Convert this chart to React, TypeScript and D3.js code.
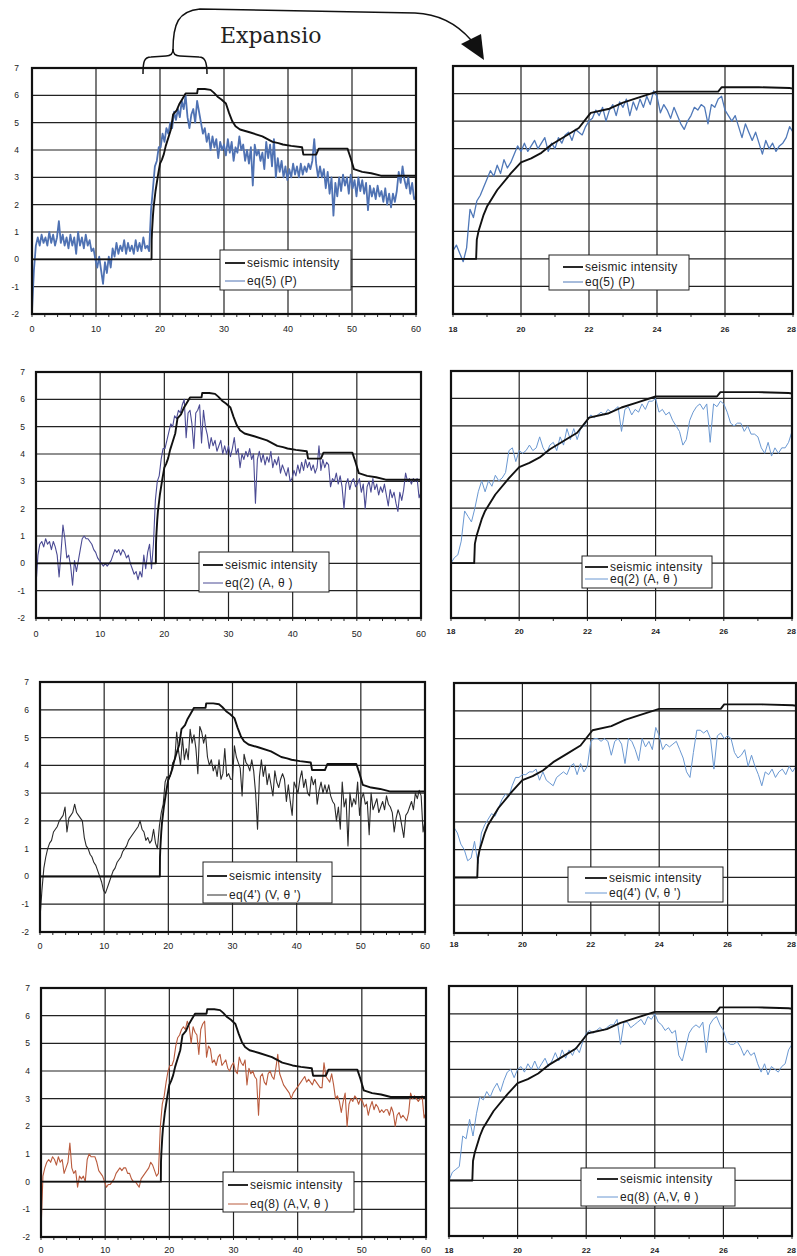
import React from "react";
import * as d3 from "d3";

// ---------- DATA ----------
// seismic intensity (shared by all panels)
const SI_T = [0, 18.68, 18.7, 18.75, 18.9, 19.0, 19.3, 19.7, 20.0, 20.3, 20.6, 20.9, 21.3, 21.7, 22.05, 22.6, 23.0, 23.45, 24.0, 25.8, 25.9, 27.0, 27.9, 28.4, 29.0, 29.6, 30.3, 30.8, 31.3, 31.8, 32.5, 34.0, 36.0, 37.6, 38.5, 39.2, 40.5, 42.2, 42.4, 44.4, 44.8, 49.3, 49.8, 50.3, 51.6, 53.0, 54.5, 60];
const SI_V = [0, 0, 0.7, 1.0, 1.6, 1.9, 2.5, 3.1, 3.5, 3.65, 3.85, 4.15, 4.45, 4.75, 5.3, 5.45, 5.67, 5.85, 6.07, 6.07, 6.23, 6.23, 6.2, 6.1, 5.95, 5.85, 5.7, 5.35, 5.05, 4.87, 4.75, 4.65, 4.5, 4.3, 4.25, 4.2, 4.15, 4.1, 3.83, 3.83, 4.05, 4.05, 3.7, 3.3, 3.2, 3.15, 3.06, 3.06];

// full records 0..60 s, sampled every 0.3 s
const LEFT_START = 0;
const LEFT_STEP = 0.3;
const EQ5_FULL = [
  -1.9, -0.4, 0.5, 0.8, 0.5, 0.9, 0.6, 0.8, 0.5, 1.0,
  0.6, 0.9, 0.5, 0.8, 1.4, 0.6, 0.9, 0.5, 0.8, 0.4,
  0.9, 0.5, 0.8, 0.2, 1.0, 0.5, 0.8, 0.4, 0.9, 0.5,
  0.7, 0.3, 0.4, 0.0, -0.3, 0.1, -0.4, -0.9, -0.1, -0.5,
  0.1, -0.3, 0.4, 0.1, 0.6, 0.2, 0.5, 0.3, 0.7, 0.2,
  0.6, 0.3, 0.5, 0.2, 0.7, 0.3, 0.6, 0.3, 0.8, 0.4,
  0.5, 0.3, 1.8, 2.6, 3.4, 3.6, 4.1, 4.1, 4.6, 4.3,
  4.8, 4.6, 5.0, 4.8, 5.4, 5.1, 5.5, 5.2, 5.8, 5.5,
  6.0, 5.2, 4.8, 5.3, 5.5, 5.0, 5.8, 5.4, 5.0, 4.6,
  4.8, 4.3, 4.6, 4.0, 4.5, 4.1, 4.4, 3.7, 4.3, 4.0,
  4.2, 3.8, 4.4, 3.9, 4.3, 3.6, 4.1, 3.9, 4.5, 4.0,
  4.2, 3.6, 4.0, 3.5, 4.1, 2.7, 4.2, 3.8, 4.0, 3.6,
  3.9, 3.3, 4.3, 3.7, 4.2, 3.4, 4.4, 3.0, 3.7, 3.2,
  3.6, 3.0, 3.4, 2.9, 3.3, 3.0, 3.5, 3.1, 3.4, 3.0,
  3.5, 3.1, 3.4, 3.2, 3.5, 3.3, 3.6, 4.4, 3.5, 3.0,
  3.4, 3.0, 3.3, 2.6, 3.2, 2.4, 3.0, 1.6, 2.8, 2.3,
  3.0, 2.5, 3.1, 2.7, 3.0, 2.4, 3.1, 2.6, 2.9, 2.3,
  3.0, 2.5, 2.9, 2.4, 2.8, 1.8, 2.7, 2.3, 2.6, 2.2,
  2.7, 2.3, 2.5, 2.1, 2.6, 2.0, 2.4, 1.9, 2.4, 2.1,
  2.5, 3.2, 2.8, 3.4, 2.9, 2.6, 3.0, 2.4, 2.8, 2.2,
  2.3,
];
const EQ2_FULL = [
  -0.8, 0.3, 0.7, 0.8, 0.6, 0.9, 0.7, 0.8, 0.5, 0.8,
  0.6, 0.3, -0.5, 0.4, 1.4, 0.9, 0.2, 0.3, -0.1, -0.8,
  0.1, -0.3, 0.1, 0.5, 0.9, 1.0, 0.9, 0.9, 0.8, 0.7,
  0.5, 0.4, 0.2, 0.1, 0.0, -0.1, 0.0, -0.1, 0.0, 0.1,
  0.3, 0.5, 0.4, 0.5, 0.3, 0.5, 0.4, 0.2, 0.3, 0.0,
  -0.2, -0.4, -0.3, -0.6, -0.3, -0.5, 0.3, -0.2, 0.4, 0.7,
  -0.2, 0.7, 2.3, 3.0, 3.2, 3.8, 4.2, 4.2, 4.5, 4.8,
  5.1, 5.0, 5.4, 5.3, 5.6, 5.5, 5.8, 6.0, 4.6, 5.5,
  5.6, 5.1, 4.2, 5.5, 5.6, 5.8, 4.4, 5.6, 5.0, 4.7,
  4.2, 4.6, 4.3, 4.5, 4.1, 4.3, 4.5, 4.0, 4.3, 4.0,
  4.3, 3.9, 4.2, 4.6, 4.0, 4.2, 3.5, 4.0, 3.8, 4.1,
  3.9, 4.2, 3.8, 4.0, 2.2, 3.8, 4.1, 3.7, 4.0, 3.6,
  3.9, 3.7, 4.1, 3.5, 3.8, 3.6, 3.9, 3.3, 3.6, 3.4,
  3.2, 3.5, 3.0, 3.1, 3.4, 3.2, 3.6, 3.3, 3.7, 3.4,
  3.8, 3.5, 3.7, 3.4, 3.6, 3.3, 3.5, 4.3, 3.4, 3.8,
  3.5, 3.7, 3.6, 2.8, 3.1, 3.0, 3.3, 2.9, 3.2, 2.8,
  2.0, 2.9, 3.1, 2.7, 3.0, 3.1, 2.8, 2.9, 3.1, 2.6,
  2.9, 2.0, 2.8, 3.0, 2.6, 3.1, 2.7, 2.9, 2.5, 2.8,
  2.6, 2.9, 2.5, 2.1, 2.7, 2.4, 2.6, 2.2, 1.9, 2.6,
  2.3, 2.7, 3.3, 3.0, 3.1, 2.9, 3.1, 3.0, 3.1, 2.4,
  2.6,
];
const EQ4_FULL = [
  -1.5, -0.5, 0.3, 0.7, 1.0, 1.2, 1.3, 1.6, 1.7, 1.8,
  2.0, 2.1, 2.2, 2.5, 1.6, 2.1, 2.2, 2.3, 2.6, 2.3,
  2.2, 2.1, 2.0, 1.4, 1.1, 1.0, 0.8, 0.7, 0.5, 0.4,
  0.2, 0.0, -0.2, -0.5, -0.6, -0.4, -0.2, 0.0, 0.2, 0.3,
  0.5, 0.6, 0.7, 0.9, 1.0, 1.1, 1.3, 1.4, 1.5, 1.6,
  1.7, 1.8, 2.0, 1.7, 1.6, 1.3, 1.4, 1.2, 1.3, 1.7,
  1.2, 1.0, 1.8, 2.3, 2.6, 3.4, 3.6, 3.5, 3.7, 4.1,
  4.2, 5.2, 4.5, 4.0, 5.0, 4.2, 4.6, 4.2, 5.3, 4.8,
  5.1, 4.6, 3.7, 5.4, 5.2, 4.8, 5.1, 4.3, 4.0, 4.2,
  3.8, 4.0, 3.6, 4.2, 3.5, 3.7, 4.6, 3.6, 3.7, 3.5,
  3.5, 4.7, 4.3, 4.1, 3.9, 2.9, 4.4, 4.1, 4.0, 3.8,
  4.2, 3.8, 3.0, 1.7, 3.6, 4.2, 3.6, 4.0, 3.3, 3.7,
  3.3, 2.9, 3.8, 3.4, 3.2, 3.5, 3.7, 3.5, 2.7, 3.3,
  2.7, 2.2, 3.4, 3.2, 3.0, 3.5, 3.8, 3.2, 3.5, 3.0,
  2.9, 3.6, 3.3, 3.5, 2.6, 3.1, 3.4, 3.0, 3.3, 3.0,
  3.3, 2.9, 2.7, 2.6, 2.0, 2.5, 1.7, 3.4, 2.5, 2.8,
  1.1, 3.0, 2.5, 2.8, 2.6, 3.4, 2.2, 2.8, 3.0, 2.6,
  2.7, 1.5, 3.0, 2.4, 2.6, 2.8, 2.3, 2.5, 2.7, 2.4,
  2.9, 2.6, 2.5, 2.3, 1.6, 2.1, 2.4, 2.2, 1.8, 1.4,
  2.2, 2.3, 2.5, 2.7, 2.4, 3.0, 2.8, 3.1, 2.9, 1.6,
  2.0,
];
const EQ8_FULL = [
  -1.8, 0.2, 0.5, 0.7, 0.8, 0.7, 0.9, 0.8, 0.6, 0.9,
  0.7, 0.8, 0.3, 0.5, 0.7, 1.4, 0.5, 0.3, 0.4, -0.2,
  0.2, 0.1, 0.2, 0.0, 0.8, 1.0, 0.9, 0.9, 0.9, 0.7,
  0.4, 0.3, 0.2, 0.0, -0.2, -0.1, -0.1, 0.0, 0.1, 0.3,
  0.4, 0.5, 0.4, 0.5, 0.5, 0.3, 0.3, 0.1, 0.0, 0.0,
  -0.1, -0.2, 0.1, 0.2, 0.3, 0.4, 0.5, 0.7, 0.6, 0.4,
  0.2, 0.3, 2.0, 2.8, 3.1, 3.6, 4.0, 4.2, 4.2, 4.4,
  4.9, 5.2, 5.3, 5.5, 5.6, 5.5, 5.8, 5.6, 5.0, 5.6,
  5.4, 5.3, 4.6, 5.5, 5.7, 5.8, 4.5, 4.9, 4.8, 4.3,
  4.4, 4.2, 4.5, 4.6, 4.2, 4.3, 4.4, 4.1, 4.0, 4.2,
  4.3, 4.0, 3.9, 4.5, 4.3, 4.2, 4.4, 3.5, 4.1, 3.9,
  4.0, 3.8, 3.7, 2.4, 3.8, 3.9, 3.6, 3.5, 3.9, 4.0,
  3.8, 3.7, 4.1, 4.6, 3.9, 3.7, 3.5, 3.4, 3.3, 3.2,
  3.0, 3.2, 3.3, 3.4, 3.5, 3.6, 3.7, 3.8, 3.6, 3.7,
  3.6, 3.5, 3.7, 3.6, 3.5, 3.4, 3.4, 4.3, 3.8, 3.7,
  3.6, 3.9, 3.5, 3.0, 3.1, 2.9, 2.5, 2.9, 3.2, 2.0,
  2.8, 3.0, 2.9, 3.1, 3.0, 2.8, 3.0, 2.9, 2.7, 2.8,
  2.4, 2.7, 2.9, 2.6, 2.8, 2.7, 2.5, 2.6, 2.5, 2.6,
  2.6, 2.4, 2.7, 2.5, 2.0, 2.4, 2.5, 2.3, 2.4, 2.3,
  2.2, 2.5, 3.2, 3.0, 3.1, 3.0, 2.9, 3.0, 3.1, 2.3,
  2.5,
];

// expanded records 18..28 s, sampled every 0.1 s
const RIGHT_START = 18;
const RIGHT_STEP = 0.1;
const EQ5_ZOOM = [
  0.3, 0.5, 0.2, -0.1, 0.4, 1.8, 1.5, 2.1, 2.3, 2.6,
  2.9, 3.2, 3.0, 3.4, 3.1, 3.6, 3.3, 3.5, 3.8, 4.1,
  3.9, 4.2, 3.9, 4.1, 4.3, 4.0, 4.2, 4.4, 3.9, 4.2,
  4.0, 4.4, 4.2, 4.5, 4.6, 4.3, 4.7, 4.6, 4.5, 4.8,
  5.0, 5.1, 5.4, 5.2, 5.5, 5.0, 5.4, 5.6, 5.2, 5.7,
  5.5, 5.8, 5.2, 5.7, 5.4, 5.8, 5.5, 5.9, 5.6, 6.1,
  5.9, 5.3, 5.6, 5.4, 5.1, 5.5, 5.2, 4.9, 4.7, 5.0,
  5.2, 5.5, 5.4, 5.6, 5.5, 4.9, 5.6, 5.5, 5.8, 5.9,
  5.4, 5.2, 5.0, 5.2, 4.8, 4.4, 4.9, 4.6, 4.3, 4.6,
  4.2, 3.8, 4.3, 4.0, 4.2, 3.9, 4.1, 4.2, 4.4, 4.8,
  4.6,
];
const EQ2_ZOOM = [
  0.0, 0.2, 0.3, 0.8, 1.9, 1.7, 1.5, 2.0, 2.6, 3.0,
  2.6, 3.0, 2.8, 3.2, 3.0, 3.1, 3.3, 4.1, 4.2, 3.7,
  4.1, 4.0, 4.1, 4.3, 4.1, 4.2, 4.6, 4.2, 4.0, 4.3,
  4.4, 4.1, 4.6, 4.3, 4.9, 4.5, 4.9, 4.5, 4.9, 5.0,
  5.2, 5.4, 5.3, 5.4, 5.5, 5.4, 5.6, 5.5, 5.6, 5.7,
  4.8, 5.6, 5.7, 5.4, 5.6, 5.5, 5.8, 5.6, 5.9, 5.9,
  6.0, 5.5, 5.6, 5.4, 5.5, 5.2, 5.0, 4.8, 4.3, 4.5,
  5.2, 5.5, 5.7, 5.8, 5.6, 5.8, 4.4, 5.8, 5.7, 5.9,
  5.8, 5.5, 5.1, 5.0, 5.1, 5.1, 4.8, 5.0, 4.7, 4.7,
  4.6, 4.2, 4.0, 4.4, 3.9, 4.2, 4.0, 4.2, 4.2, 4.4,
  4.8,
];
const EQ4_ZOOM = [
  1.8, 1.6, 1.2, 1.0, 0.6, 0.7, 1.3, 0.5, 1.6, 1.9,
  2.1, 2.3, 2.2, 2.5, 2.8, 3.0, 2.9, 3.3, 3.6, 3.6,
  3.7, 3.7, 3.8, 3.8, 3.9, 3.5, 3.8, 3.5, 3.4, 3.3,
  3.6, 3.7, 3.8, 3.7, 4.0, 4.1, 3.7, 4.1, 3.8, 4.0,
  4.9, 5.0, 5.0, 4.9, 5.0, 4.9, 4.4, 4.9, 5.0, 4.8,
  4.1, 5.0, 4.9, 4.6, 4.2, 5.0, 4.7, 4.9, 4.6, 5.4,
  5.1, 4.6, 4.8, 4.7, 4.8, 4.9, 4.6, 4.3, 3.8, 3.6,
  4.5, 5.3, 5.3, 5.2, 5.3, 5.0, 3.9, 5.1, 5.2, 5.0,
  5.1, 5.0, 4.5, 4.3, 4.4, 4.6, 4.0, 4.4, 4.0, 3.7,
  3.3, 3.8, 3.7, 3.9, 3.6, 3.8, 3.9, 3.7, 4.0, 3.8,
  4.0,
];
const EQ8_ZOOM = [
  0.0, 0.3, 0.4, 0.5, 1.6, 1.5, 2.2, 1.6, 2.4, 3.0,
  2.9, 3.2, 3.0, 3.3, 3.5, 3.2, 3.6, 3.9, 4.0, 3.7,
  4.0, 4.1, 3.9, 4.2, 4.0, 4.3, 4.0, 4.2, 4.4, 4.1,
  4.3, 4.6, 4.3, 4.7, 4.4, 4.7, 4.5, 4.8, 4.6, 5.0,
  5.3, 5.4, 5.3, 5.4, 5.5, 5.4, 5.5, 5.6, 5.6, 5.8,
  4.9, 5.7, 5.7, 5.5, 5.6, 5.7, 5.8, 5.6, 5.9, 5.8,
  6.0, 5.7, 5.6, 5.4, 5.5, 5.3, 5.4, 4.5, 4.3, 4.8,
  5.3, 5.5, 5.6, 5.5, 5.7, 4.6, 5.6, 5.8, 5.9, 5.6,
  5.4, 5.0, 4.9, 4.9, 5.0, 4.8, 4.5, 4.7, 4.5, 4.6,
  4.2, 3.9, 4.2, 3.8, 4.1, 4.0, 3.9, 4.1, 4.2, 4.7,
  4.9,
];

const X_TICKS_LEFT = [0, 10, 20, 30, 40, 50, 60];
const X_TICKS_RIGHT = [18, 20, 22, 24, 26, 28];
const Y_TICKS = [-2, -1, 0, 1, 2, 3, 4, 5, 6, 7];
const LEGEND_SI = "seismic intensity";
const LEGEND_EQ = ["eq(5) (P)", "eq(2) (A, \u03b8 )", "eq(4') (V, \u03b8 ')", "eq(8) (A,V, \u03b8 )"];

// ---------- LAYOUT ----------
type Cfg = {
  id: string;
  box: [number, number, number, number];
  domain: [number, number];
  xticks: number[];
  values: number[];
  start: number;
  step: number;
  color: string;
  sw: number;
  xLabelY: number;
  yLabelX: number | null;
  bold: boolean;
  legend: [number, number, number, number];
  legLine: [number, number];
  legTextX: number;
  legY: [number, number];
  eq: string;
};

const PANELS: Cfg[] = [
  { id: "p1", box: [32, 416, 68, 314], domain: [0, 60], xticks: X_TICKS_LEFT, values: EQ5_FULL, start: LEFT_START, step: LEFT_STEP, color: "#4f72b3", sw: 1.8, xLabelY: 329, yLabelX: 19, bold: false, legend: [220, 250, 351, 290], legLine: [225, 245], legTextX: 247, legY: [263, 281], eq: LEGEND_EQ[0] },
  { id: "p2", box: [453, 793, 66, 314], domain: [18, 28], xticks: X_TICKS_RIGHT, values: EQ5_ZOOM, start: RIGHT_START, step: RIGHT_STEP, color: "#4f78b8", sw: 1.3, xLabelY: 329, yLabelX: null, bold: true, legend: [549, 255, 689, 290], legLine: [563, 583], legTextX: 585, legY: [267, 282], eq: LEGEND_EQ[0] },
  { id: "p3", box: [36, 421, 372, 618], domain: [0, 60], xticks: X_TICKS_LEFT, values: EQ2_FULL, start: LEFT_START, step: LEFT_STEP, color: "#4b4b94", sw: 1.1, xLabelY: 634, yLabelX: 25, bold: false, legend: [199, 552, 329, 592], legLine: [203, 223], legTextX: 225, legY: [565, 583], eq: LEGEND_EQ[1] },
  { id: "p4", box: [451, 792, 371, 618], domain: [18, 28], xticks: X_TICKS_RIGHT, values: EQ2_ZOOM, start: RIGHT_START, step: RIGHT_STEP, color: "#6a98d2", sw: 1.0, xLabelY: 631, yLabelX: null, bold: true, legend: [582, 556, 712, 588], legLine: [585, 608], legTextX: 610, legY: [567, 579], eq: LEGEND_EQ[1] },
  { id: "p5", box: [40, 425, 682, 932], domain: [0, 60], xticks: X_TICKS_LEFT, values: EQ4_FULL, start: LEFT_START, step: LEFT_STEP, color: "#2a2a2a", sw: 1.1, xLabelY: 946, yLabelX: 29, bold: false, legend: [203, 862, 332, 903], legLine: [207, 227], legTextX: 229, legY: [876, 895], eq: LEGEND_EQ[2] },
  { id: "p6", box: [454, 796, 683, 933], domain: [18, 28], xticks: X_TICKS_RIGHT, values: EQ4_ZOOM, start: RIGHT_START, step: RIGHT_STEP, color: "#6a98d2", sw: 1.0, xLabelY: 944, yLabelX: null, bold: true, legend: [568, 867, 723, 902], legLine: [585, 607], legTextX: 609, legY: [878, 893], eq: LEGEND_EQ[2] },
  { id: "p7", box: [41, 426, 988, 1237], domain: [0, 60], xticks: X_TICKS_LEFT, values: EQ8_FULL, start: LEFT_START, step: LEFT_STEP, color: "#b95a3c", sw: 1.1, xLabelY: 1250, yLabelX: 30, bold: false, legend: [223, 1172, 354, 1212], legLine: [228, 248], legTextX: 250, legY: [1185, 1204], eq: LEGEND_EQ[3] },
  { id: "p8", box: [449, 792, 986, 1236], domain: [18, 28], xticks: X_TICKS_RIGHT, values: EQ8_ZOOM, start: RIGHT_START, step: RIGHT_STEP, color: "#6a98d2", sw: 1.0, xLabelY: 1250, yLabelX: null, bold: true, legend: [581, 1168, 735, 1206], legLine: [597, 618], legTextX: 620, legY: [1179, 1197], eq: LEGEND_EQ[3] },
];

const SANS = "'Liberation Sans', Arial, sans-serif";
const PAGE_W = 797;

function Panel({ c }: { c: Cfg }) {
  const [x0, x1, y0, y1] = c.box;
  const x = d3.scaleLinear().domain(c.domain).range([x0, x1]);
  const y = d3.scaleLinear().domain([-2, 7]).range([y1, y0]);
  const line = d3
    .line<[number, number]>()
    .x((d) => x(d[0]))
    .y((d) => y(d[1]));
  const siPts: [number, number][] = SI_T.map((t, i) => [t, SI_V[i]]);
  const eqPts: [number, number][] = c.values.map((v, i) => [c.start + i * c.step, v]);
  const minor = d3.range(c.domain[0], c.domain[1] + 0.001, c.domain[1] - c.domain[0] > 20 ? 2 : 1);
  const [lx0, ly0, lx1, ly1] = c.legend;
  return (
    <g>
      <defs>
        <clipPath id={"clip-" + c.id}>
          <rect x={x0} y={y0} width={x1 - x0} height={y1 - y0} />
        </clipPath>
      </defs>
      <rect x={x0} y={y0} width={x1 - x0} height={y1 - y0} fill="#fff" />
      {Y_TICKS.map((t) => (
        <line key={"h" + t} x1={x0} x2={x1} y1={y(t)} y2={y(t)} stroke="#222" strokeWidth={1.2} />
      ))}
      {c.xticks.map((t) => (
        <line key={"v" + t} x1={x(t)} x2={x(t)} y1={y0} y2={y1} stroke="#222" strokeWidth={1.2} />
      ))}
      {minor.map((t) => (
        <line key={"m" + t} x1={x(t)} x2={x(t)} y1={y1} y2={y1 + 3} stroke="#222" strokeWidth={1} />
      ))}
      <g clipPath={`url(#clip-${c.id})`}>
        <path d={line(eqPts) || ""} fill="none" stroke={c.color} strokeWidth={c.sw} strokeLinejoin="round" />
        <path d={line(siPts) || ""} fill="none" stroke="#111" strokeWidth={1.9} strokeLinejoin="round" />
      </g>
      <rect x={lx0} y={ly0} width={lx1 - lx0} height={ly1 - ly0} fill="#fff" stroke="#222" strokeWidth={1} />
      <line x1={c.legLine[0]} x2={c.legLine[1]} y1={c.legY[0]} y2={c.legY[0]} stroke="#111" strokeWidth={1.8} />
      <line x1={c.legLine[0]} x2={c.legLine[1]} y1={c.legY[1]} y2={c.legY[1]} stroke={c.color} strokeWidth={1} />
      <text x={c.legTextX} y={c.legY[0]} dy="0.35em" fontFamily={SANS} fontSize={12} fill="#222" letterSpacing={0.3}>
        {LEGEND_SI}
      </text>
      <text x={c.legTextX} y={c.legY[1]} dy="0.35em" fontFamily={SANS} fontSize={12} fill="#222" letterSpacing={0.3}>
        {c.eq}
      </text>
      <rect x={x0} y={y0} width={x1 - x0} height={y1 - y0} fill="none" stroke="#111" strokeWidth={2.2} />
      {c.xticks.map((t) => {
        const px = x(t);
        const nearEdge = px + 6 > PAGE_W;
        return (
          <text
            key={"xl" + t}
            x={nearEdge ? PAGE_W - 1 : px}
            y={c.xLabelY}
            dy="0.35em"
            textAnchor={nearEdge ? "end" : "middle"}
            fontFamily={SANS}
            fontSize={c.bold ? 8 : 9}
            fontWeight={c.bold ? "bold" : "normal"}
            fill="#222"
          >
            {t}
          </text>
        );
      })}
      {c.yLabelX !== null &&
        Y_TICKS.map((t) => (
          <text key={"yl" + t} x={c.yLabelX as number} y={y(t)} dy="0.35em" textAnchor="end" fontFamily={SANS} fontSize={8.5} fill="#222">
            {t}
          </text>
        ))}
    </g>
  );
}

export default function App() {
  return (
    <svg width={797} height={1256} viewBox="0 0 797 1256" style={{ display: "block", position: "absolute", left: 0, top: 0, background: "#fff" }}>
      <rect x={0} y={0} width={797} height={1256} fill="#fff" />
      {PANELS.map((c) => (
        <Panel key={c.id} c={c} />
      ))}
      {/* expansion annotation */}
      <path d="M143,74 C143,62 144,57 151,57 L166,56 C171,56 173,54 173,49 C173,54 175,56 180,56 L199,57 C205,57 207,62 207,74" fill="none" stroke="#111" strokeWidth={1.5} />
      <path d="M173,50 C173,24 178,11 200,9 L415,13 C440,14 457,24 471,40" fill="none" stroke="#111" strokeWidth={1.5} />
      <polygon points="461,44 481,34 484,60" fill="#111" />
      <text x={220} y={43} fontFamily="'DejaVu Serif', serif" fontSize={22} fill="#222">
        Expansio
      </text>
    </svg>
  );
}
